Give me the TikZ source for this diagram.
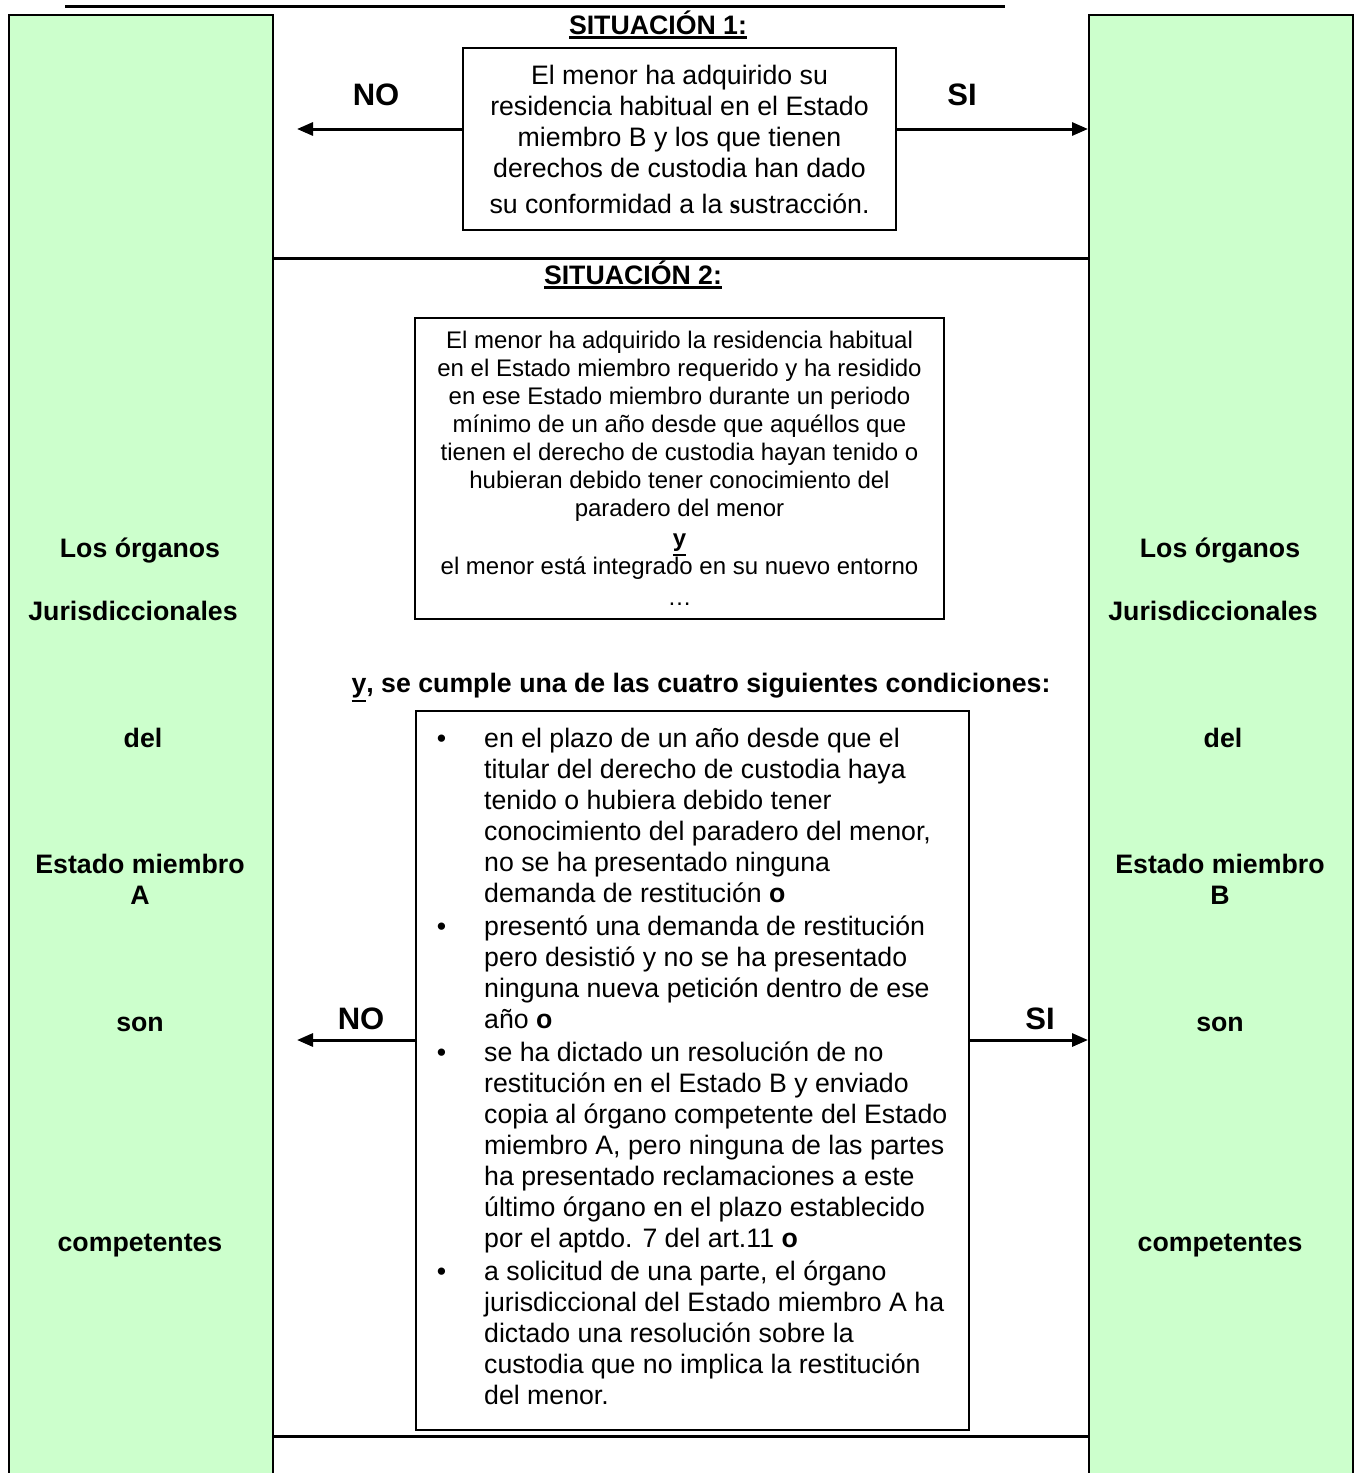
\documentclass[tikz,border=0pt]{standalone}
\usepackage{fontspec}
\setmainfont{Liberation Sans}
\newfontfamily\tnr{Liberation Serif}
\usetikzlibrary{arrows.meta}
\definecolor{sidegreen}{HTML}{CCFFCC}
\newcommand\myul[1]{\setbox0\hbox{#1}\rlap{\rule[\dimexpr-\dp0-4.5pt\relax]{\wd0}{2.4pt}}\box0}
\newcommand\bul{\llap{•\hspace{38pt}}}
\begin{document}
\begin{tikzpicture}[x=1pt,y=-1pt,
  side/.style={draw=black, line width=2.2pt, fill=sidegreen, minimum width=264pt, minimum height=1500pt, anchor=north west, inner sep=0pt},
  box/.style={draw=black, line width=2pt, fill=white, inner sep=0pt, align=center},
  lab/.style={font=\fontsize{26.7}{31}\selectfont\bfseries, anchor=base, inner sep=0pt},
  yn/.style={font=\fontsize{31}{36}\selectfont\bfseries, inner sep=0pt},
  arr/.style={line width=3pt, -{Triangle[length=16pt,width=13pt]}},
  sep/.style={line width=3pt}]
\useasboundingbox (0,0) rectangle (1359,1473);
\clip (0,0) rectangle (1359,1473);
\fill[white] (0,0) rectangle (1359,1473);
\draw[line width=3pt] (65,6) -- (1005,6);
\node[side] (gl) at (8,14) {};
\node[side] (gr) at (1088,14) {};
\coordinate (s1) at (0,258);
\coordinate (s2) at (0,1436);
\draw[sep] (gl.east |- s1) -- (gr.west |- s1);
\draw[sep] (gl.east |- s2) -- (gr.west |- s2);
% headings
\node[lab] (h1) at (658,34) {\myul{SITUACIÓN 1:}};
\node[lab] (h2) at (633,284) {\myul{SITUACIÓN 2:}};
% box 1
\node[box, minimum width=433pt, minimum height=182pt, font=\fontsize{26.7}{31}\selectfont] (b1) at (679.5,139)
 {El menor ha adquirido su\\residencia habitual en el Estado\\miembro B y los que tienen\\derechos de custodia han dado\\[5pt]su conformidad a la {\tnr\bfseries s}ustracción.};
% box 2
\node[box, minimum width=529pt, minimum height=301pt, font=\fontsize{24}{28}\selectfont] (b2) at (679.5,468.5)
 {El menor ha adquirido la residencia habitual\\
  en el Estado miembro requerido y ha residido\\
  en ese Estado miembro durante un periodo\\
  mínimo de un año desde que aquéllos que\\
  tienen el derecho de custodia hayan tenido o\\
  hubieran debido tener conocimiento del\\
  paradero del menor\\[2pt]
  \myul{\textbf{y}}\\
  el menor está integrado en su nuevo entorno\\[3pt]
  …};
\node[lab] (cond) at (701,692) {\myul{y}, se cumple una de las cuatro siguientes condiciones:};
% box 3
\node[box, minimum width=553pt, minimum height=719pt, anchor=north west] (b3) at (415,710) {};
\node[anchor=north west, align=left, inner sep=0pt, font=\fontsize{26.7}{31}\selectfont] (t3) at (484,728)
 {\bul en el plazo de un año desde que el\\
  titular del derecho de custodia haya\\
  tenido o hubiera debido tener\\
  conocimiento del paradero del menor,\\
  no se ha presentado ninguna\\
  demanda de restitución \textbf{o}\\[2pt]
  \bul presentó una demanda de restitución\\
  pero desistió y no se ha presentado\\
  ninguna nueva petición dentro de ese\\
  año \textbf{o}\\[2pt]
  \bul se ha dictado un resolución de no\\
  restitución en el Estado B y enviado\\
  copia al órgano competente del Estado\\
  miembro A, pero ninguna de las partes\\
  ha presentado reclamaciones a este\\
  último órgano en el plazo establecido\\
  por el aptdo. 7 del art.11 \textbf{o}\\[2pt]
  \bul a solicitud de una parte, el órgano\\
  jurisdiccional del Estado miembro A ha\\
  dictado una resolución sobre la\\
  custodia que no implica la restitución\\
  del menor.};
% arrows and labels
\coordinate (na) at (297,129);
\coordinate (nb) at (297,1040);
\draw[arr] (b1.west |- na) -- (na);
\draw[arr] (b1.east |- na) -- (gr.west |- na);
\draw[arr] (b3.west |- nb) -- (nb);
\draw[arr] (b3.east |- nb) -- (gr.west |- nb);
\node[yn] (no1) at (376,95) {NO};
\node[yn] (si1) at (962,95) {SI};
\node[yn] (no2) at (361,1019) {NO};
\node[yn] (si2) at (1040,1019) {SI};
% side labels left
\node[lab] (l1) at (140,557) {Los órganos};
\node[lab] (l2) at (133,620) {Jurisdiccionales};
\node[lab] (l3) at (143,747) {del};
\node[lab] (l4) at (140,873) {Estado miembro};
\node[lab] (l5) at (140,904) {A};
\node[lab] (l6) at (140,1031) {son};
\node[lab] (l7) at (140,1251) {competentes};
% side labels right
\node[lab] (r1) at (1220,557) {Los órganos};
\node[lab] (r2) at (1213,620) {Jurisdiccionales};
\node[lab] (r3) at (1223,747) {del};
\node[lab] (r4) at (1220,873) {Estado miembro};
\node[lab] (r5) at (1220,904) {B};
\node[lab] (r6) at (1220,1031) {son};
\node[lab] (r7) at (1220,1251) {competentes};
\end{tikzpicture}
\end{document}
